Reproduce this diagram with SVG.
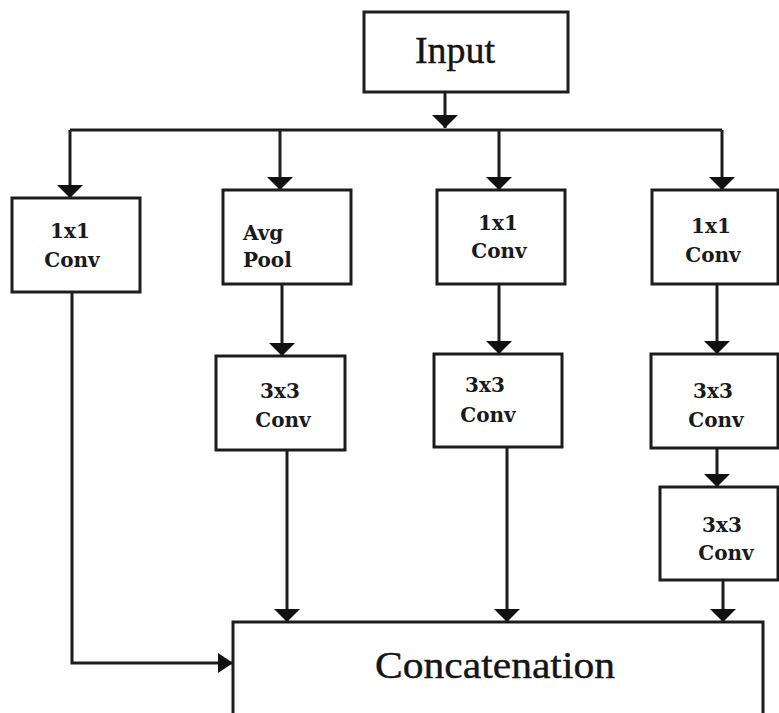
<svg xmlns="http://www.w3.org/2000/svg" width="779" height="713" viewBox="0 0 779 713">
  <style>
    .box { fill: #ffffff; stroke: #1c1c1c; stroke-width: 3; }
    .wire { fill: none; stroke: #1c1c1c; stroke-width: 3; }
    .lbl { font-family: "DejaVu Serif", "Liberation Serif", serif; font-size: 20px; font-weight: bold; fill: #1a1a1a; }
    .big { font-family: "Liberation Serif", "Times New Roman", serif; font-size: 38px; fill: #141414; stroke: #141414; stroke-width: 0.4; }
  </style>
  <defs>
    <marker id="head" markerUnits="userSpaceOnUse" viewBox="0 -13 13 26" refX="13" refY="0" markerWidth="13" markerHeight="26" orient="auto">
      <path d="M0,-13 L13,0 L0,13 z" fill="#111111"/>
    </marker>
    <marker id="headS" markerUnits="userSpaceOnUse" viewBox="0 -10 15 20" refX="15" refY="0" markerWidth="15" markerHeight="20" orient="auto">
      <path d="M0,-10 L15,0 L0,10 z" fill="#111111"/>
    </marker>
  </defs>

  <rect x="0" y="0" width="779" height="713" fill="#ffffff"/>

  <!-- connectors -->
  <g id="connectors">
    <line class="wire" x1="445" y1="92" x2="445" y2="128" marker-end="url(#head)"/>
    <line class="wire" x1="70" y1="130" x2="722" y2="130"/>
    <line class="wire" x1="70" y1="130" x2="70" y2="198" marker-end="url(#head)"/>
    <line class="wire" x1="280" y1="130" x2="280" y2="190" marker-end="url(#head)"/>
    <line class="wire" x1="499" y1="130" x2="499" y2="190" marker-end="url(#head)"/>
    <line class="wire" x1="722" y1="130" x2="722" y2="190" marker-end="url(#head)"/>
    <line class="wire" x1="282" y1="284" x2="282" y2="356" marker-end="url(#head)"/>
    <line class="wire" x1="499" y1="284" x2="499" y2="354" marker-end="url(#head)"/>
    <line class="wire" x1="717" y1="284" x2="717" y2="354" marker-end="url(#head)"/>
    <line class="wire" x1="717" y1="448" x2="717" y2="487" stroke-width="5" marker-end="url(#head)"/>
    <line class="wire" x1="287" y1="450" x2="287" y2="622" marker-end="url(#head)"/>
    <line class="wire" x1="507" y1="447" x2="507" y2="622" marker-end="url(#head)"/>
    <line class="wire" x1="723" y1="580" x2="723" y2="622" marker-end="url(#head)"/>
    <polyline class="wire" points="72,292 72,663 233,663" stroke="#3a3a3a" stroke-width="4" marker-end="url(#headS)"/>
  </g>

  <!-- nodes -->
  <g id="input">
    <rect class="box" x="364" y="12" width="204" height="80"/>
    <text class="big" x="455" y="63" text-anchor="middle">Input</text>
  </g>

  <g id="conv1x1-a">
    <rect class="box" x="12" y="198" width="128" height="94"/>
    <text class="lbl" x="70" y="238" text-anchor="middle">1x1</text>
    <text class="lbl" x="72" y="267" text-anchor="middle">Conv</text>
  </g>

  <g id="avgpool">
    <rect class="box" x="223" y="190" width="128" height="94"/>
    <text class="lbl" x="243" y="240">Avg</text>
    <text class="lbl" x="243" y="267">Pool</text>
  </g>

  <g id="conv1x1-b">
    <rect class="box" x="437" y="190" width="128" height="94"/>
    <text class="lbl" x="498" y="230" text-anchor="middle">1x1</text>
    <text class="lbl" x="499" y="258" text-anchor="middle">Conv</text>
  </g>

  <g id="conv1x1-c">
    <rect class="box" x="652" y="190" width="126" height="94"/>
    <text class="lbl" x="711" y="233" text-anchor="middle">1x1</text>
    <text class="lbl" x="713" y="262" text-anchor="middle">Conv</text>
  </g>

  <g id="conv3x3-a">
    <rect class="box" x="216" y="356" width="129" height="94"/>
    <text class="lbl" x="280" y="398" text-anchor="middle">3x3</text>
    <text class="lbl" x="283" y="427" text-anchor="middle">Conv</text>
  </g>

  <g id="conv3x3-b">
    <rect class="box" x="434" y="354" width="128" height="93"/>
    <text class="lbl" x="485" y="392" text-anchor="middle">3x3</text>
    <text class="lbl" x="488" y="422" text-anchor="middle">Conv</text>
  </g>

  <g id="conv3x3-c">
    <rect class="box" x="651" y="354" width="127" height="94"/>
    <text class="lbl" x="713" y="398" text-anchor="middle">3x3</text>
    <text class="lbl" x="716" y="427" text-anchor="middle">Conv</text>
  </g>

  <g id="conv3x3-d">
    <rect class="box" x="660" y="487" width="118" height="93"/>
    <text class="lbl" x="722" y="532" text-anchor="middle">3x3</text>
    <text class="lbl" x="726" y="560" text-anchor="middle">Conv</text>
  </g>

  <g id="concatenation">
    <rect class="box" x="233" y="622" width="530" height="100"/>
    <text class="big" x="375" y="678" textLength="240" lengthAdjust="spacingAndGlyphs">Concatenation</text>
  </g>
</svg>
